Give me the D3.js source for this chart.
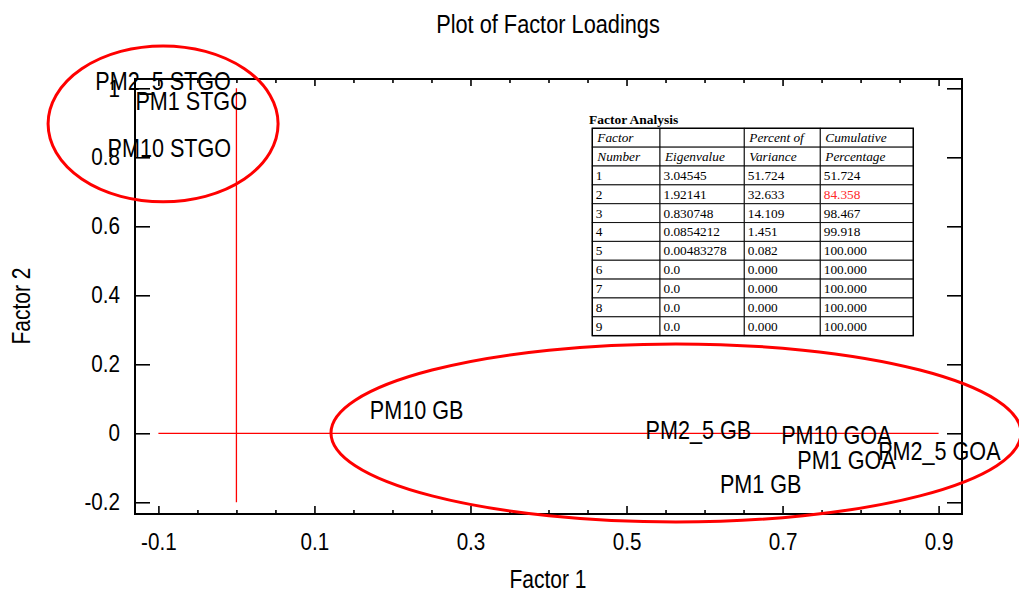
<!DOCTYPE html>
<html><head><meta charset="utf-8">
<script src="https://cdn.jsdelivr.net/npm/d3@7"></script>
<style>body{margin:0;background:#fff} svg{display:block}</style>
</head><body>
<svg id="c" width="1019" height="592"></svg>
<script>
// ---- data ----
const loadingNames = ["PM2_5 STGO","PM1 STGO","PM10 STGO","PM10 GB","PM2_5 GB","PM10 GOA","PM1 GOA","PM2_5 GOA","PM1 GB"];
const factor1 = [-0.094,-0.058,-0.086,0.231,0.592,0.769,0.782,0.901,0.672];
const factor2 = [1.021,0.963,0.828,0.068,0.010,-0.005,-0.077,-0.051,-0.147];
const xTicks = [-0.1,0.1,0.3,0.5,0.7,0.9];
const yTicks = [-0.2,0,0.2,0.4,0.6,0.8,1];
const tableHeader1 = ["Factor","","Percent of","Cumulative"];
const tableHeader2 = ["Number","Eigenvalue","Variance","Percentage"];
const factorNumber = ["1","2","3","4","5","6","7","8","9"];
const eigenvalue = ["3.04545","1.92141","0.830748","0.0854212","0.00483278","0.0","0.0","0.0","0.0"];
const pctVariance = ["51.724","32.633","14.109","1.451","0.082","0.000","0.000","0.000","0.000"];
const cumPct = ["51.724","84.358","98.467","99.918","100.000","100.000","100.000","100.000","100.000"];
// annotation ellipses in data units: [cx, cy, rx, ry]
const ellipseGroups = [[-0.094,0.897,0.1474,0.226],[0.5634,0.001,0.4422,0.258]];

// ---- layout ----
const svg = d3.select("#c");
const x = d3.scaleLinear().domain([-0.13,0.93]).range([135,962]);
const y = d3.scaleLinear().domain([-0.234,1.027]).range([514,79]);
const SANS = "'Liberation Sans', Arial, sans-serif";
const SERIF = "'Liberation Serif', 'Times New Roman', serif";
const fmt = d => String(+d.toFixed(1));

function squeeze(sel, k){
  sel.each(function(){
    const L = this.getComputedTextLength();
    d3.select(this).attr("textLength", L*k).attr("lengthAdjust","spacingAndGlyphs");
  });
}

const xMinor = d3.range(-2,19).filter(i => (i+2)%4 !== 0).map(i => +(i*0.05).toFixed(2));

function styleAxis(g){
  g.select(".domain").remove();
  g.selectAll(".tick line").attr("stroke","#000").attr("stroke-width",1.6);
}

// bottom axis
const gBm = svg.append("g").attr("transform","translate(0,514)")
  .call(d3.axisBottom(x).tickValues(xMinor).tickSize(-4).tickFormat(""));
styleAxis(gBm);
const gB = svg.append("g").attr("transform","translate(0,514)")
  .call(d3.axisBottom(x).tickValues(xTicks).tickSize(-8).tickFormat(fmt));
styleAxis(gB);
gB.selectAll(".tick text").attr("y",36).attr("dy",null)
  .attr("font-family",SANS).attr("font-size",24).attr("fill","#000");
squeeze(gB.selectAll(".tick text"),0.86);

// top axis
const gTm = svg.append("g").attr("transform","translate(0,79)")
  .call(d3.axisTop(x).tickValues(xMinor).tickSize(-4).tickFormat(""));
styleAxis(gTm);
const gT = svg.append("g").attr("transform","translate(0,79)")
  .call(d3.axisTop(x).tickValues(xTicks).tickSize(-7).tickFormat(""));
styleAxis(gT);

// left axis
const gL = svg.append("g").attr("transform","translate(135,0)")
  .call(d3.axisLeft(y).tickValues(yTicks).tickSize(-15).tickPadding(15).tickFormat(fmt));
styleAxis(gL);
gL.selectAll(".tick text").attr("font-family",SANS).attr("font-size",24).attr("fill","#000");
squeeze(gL.selectAll(".tick text"),0.86);

// right axis
const gR = svg.append("g").attr("transform","translate(962,0)")
  .call(d3.axisRight(y).tickValues(yTicks).tickSize(-15).tickFormat(""));
styleAxis(gR);

// frame
svg.append("rect").attr("x",x.range()[0]).attr("y",y.range()[1])
  .attr("width",x.range()[1]-x.range()[0]).attr("height",y.range()[0]-y.range()[1])
  .attr("fill","none").attr("stroke","#000").attr("stroke-width",2);

// reference lines
svg.append("line").attr("x1",x(-0.1)).attr("x2",x(0.9)).attr("y1",y(0)).attr("y2",y(0))
  .attr("stroke","#ff0000").attr("stroke-width",1.3);
svg.append("line").attr("x1",x(0)).attr("x2",x(0)).attr("y1",y(-0.2)).attr("y2",y(1))
  .attr("stroke","#ff0000").attr("stroke-width",1.3);

// table
const tg = svg.append("g");
const colX = [592.3,660,744.3,820.3,913.3];
const rowY0 = 128.3, rowH = 18.85;
tg.append("text").attr("x",589).attr("y",124.3).text("Factor Analysis")
  .attr("font-family",SERIF).attr("font-weight","bold").attr("font-size",13.5).attr("fill","#000");
const rows = [
  {cells: tableHeader1, italic: true},
  {cells: tableHeader2, italic: true}
].concat(factorNumber.map((n,i) => ({cells:[n, eigenvalue[i], pctVariance[i], cumPct[i]], italic:false})));
rows.forEach((r,ri) => {
  r.cells.forEach((c,ci) => {
    tg.append("rect").attr("x",colX[ci]).attr("y",rowY0+ri*rowH)
      .attr("width",colX[ci+1]-colX[ci]).attr("height",rowH)
      .attr("fill","#fff").attr("stroke","#111").attr("stroke-width",1);
    tg.append("text").attr("x",colX[ci]+(r.italic?5:3.5)).attr("y",rowY0+(ri+1)*rowH-5)
      .text(c).attr("font-family",SERIF).attr("font-size",13.3)
      .attr("font-style",r.italic?"italic":"normal")
      .attr("fill",(ri===3 && ci===3) ? "#ff2a2a" : "#000");
  });
});
tg.append("rect").attr("x",colX[0]).attr("y",rowY0).attr("width",colX[4]-colX[0]).attr("height",rows.length*rowH)
  .attr("fill","none").attr("stroke","#000").attr("stroke-width",1.4);

// point labels
const lab = svg.append("g").selectAll("text").data(loadingNames).join("text")
  .attr("x",(d,i)=>x(factor1[i])).attr("y",(d,i)=>y(factor2[i])).attr("dy","0.36em")
  .attr("text-anchor","middle").attr("font-family",SANS).attr("font-size",26).attr("fill","#000")
  .text(d=>d);
squeeze(lab,0.83);

// ellipses
svg.append("g").selectAll("ellipse").data(ellipseGroups).join("ellipse")
  .attr("cx",d=>x(d[0])).attr("cy",d=>y(d[1]))
  .attr("rx",d=>x(d[0]+d[2])-x(d[0])).attr("ry",d=>y(d[1]-d[3])-y(d[1]))
  .attr("fill","none").attr("stroke","#ff0000").attr("stroke-width",3);

// titles
const title = svg.append("text").attr("x",548).attr("y",33).attr("text-anchor","middle")
  .attr("font-family",SANS).attr("font-size",25).attr("fill","#000").text("Plot of Factor Loadings");
squeeze(title,0.87);
const xl = svg.append("text").attr("x",548).attr("y",588).attr("text-anchor","middle")
  .attr("font-family",SANS).attr("font-size",25).attr("fill","#000").text("Factor 1");
squeeze(xl,0.84);
const yl = svg.append("text").attr("transform","translate(29.5,306) rotate(-90)").attr("text-anchor","middle")
  .attr("font-family",SANS).attr("font-size",25).attr("fill","#000").text("Factor 2");
squeeze(yl,0.84);
</script>
</body></html>
